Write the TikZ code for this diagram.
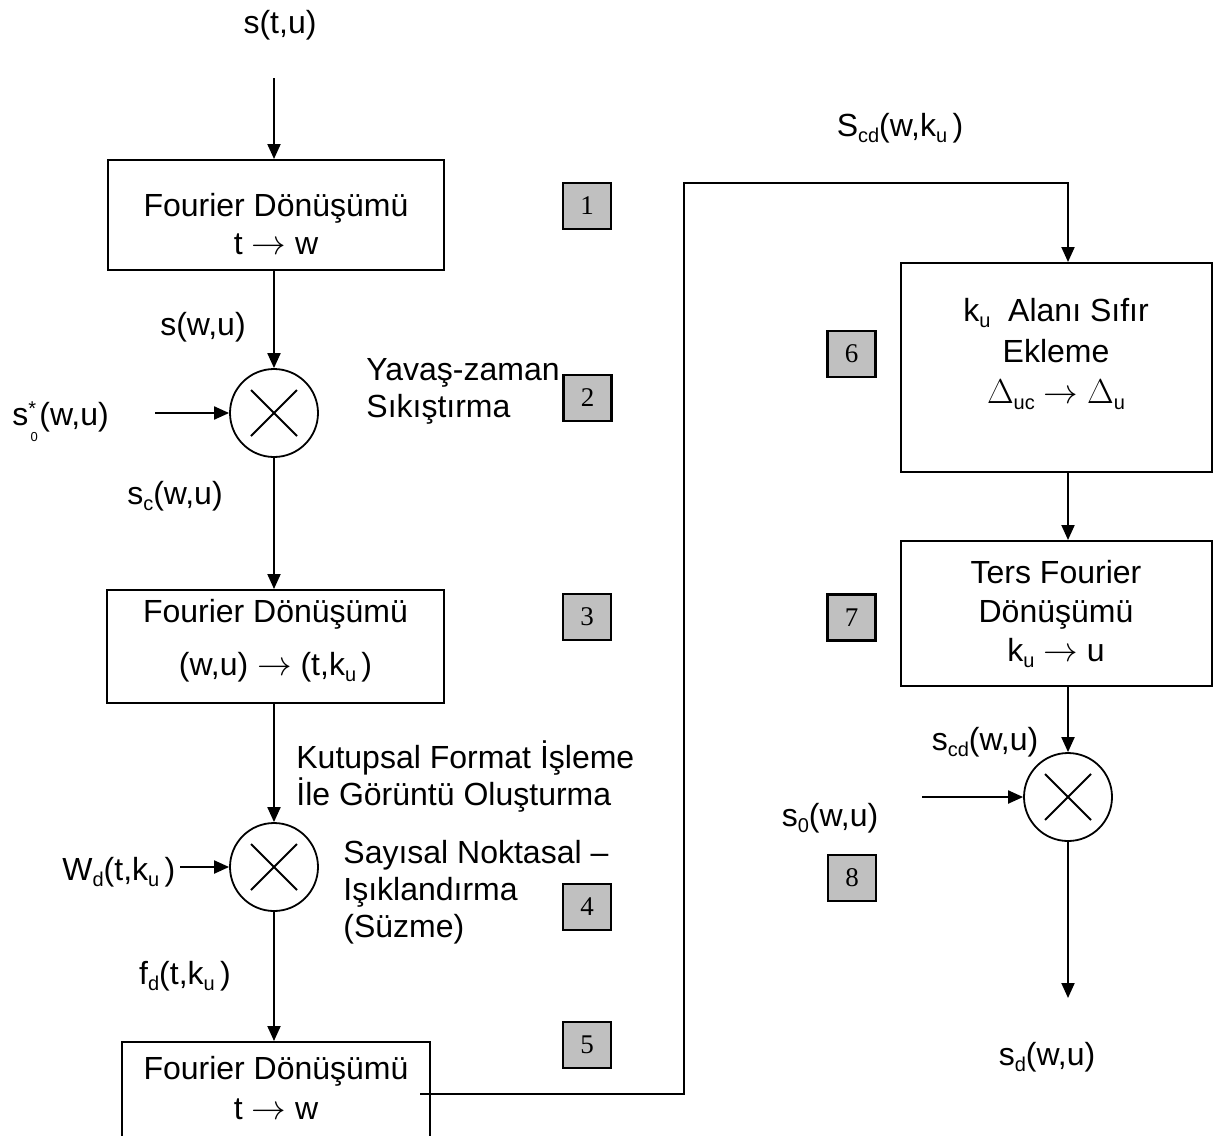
\documentclass[tikz,border=0pt]{standalone}
\usepackage{fontspec}
\setmainfont{Liberation Sans}
\newfontfamily\numfont{Liberation Serif}
\usetikzlibrary{arrows.meta,calc}
\definecolor{numgray}{HTML}{C0C0C0}
\newcommand{\mysb}[1]{\raisebox{-3pt}{\fontsize{10}{10}\selectfont #1}}
\begin{document}
\begin{tikzpicture}[x=0.5pt,y=-0.5pt,
  every node/.style={font=\fontsize{16}{18.5}\selectfont, inner sep=0pt},
  blk/.style={draw, line width=1pt},
  btxt/.style={align=center, anchor=base},
  mult/.style={draw, circle, line width=0.9pt, minimum size=44pt},
  numbox/.style={draw, line width=1.2pt, fill=numgray, minimum width=24pt, minimum height=23pt, font=\numfont\fontsize{13.5}{13.5}\selectfont},
  arr/.style={line width=1pt, -{Triangle[length=7.5pt,width=6.5pt]}},
  ln/.style={line width=1pt},
  side/.style={align=left, anchor=base west}
]
\clip (0,0) rectangle (1213,1135);
\fill[white] (0,0) rectangle (1213,1135);

% left column
\node (lst) at (280,25) {s(t,u)};
\coordinate (in) at (274,78);
\node[blk, minimum width=168pt, minimum height=55pt] (b1) at (276,215) {};
\node[btxt] (t1) at (276,254) {Fourier Dönüşümü\\[0.5pt] t $\rightarrow$ w};
\node[mult] (c1) at (274,413) {};
\node[blk, minimum width=168.5pt, minimum height=56.5pt] (b3) at (275.5,646.5) {};
\node[btxt] (t3) at (275.5,675) {Fourier Dönüşümü\\[8pt] (w,u) $\rightarrow$ (t,k\mysb{u}\,)};
\node[mult] (c2) at (274,867) {};
\node[blk, minimum width=154pt, minimum height=49pt] (b5) at (276,1091) {};
\node[btxt] (t5) at (276,1119) {Fourier Dönüşümü\\[1.5pt] t $\rightarrow$ w};

\foreach \c in {c1,c2}{
  \draw[ln] ([shift={(-23,-23)}]\c.center) -- ([shift={(23,23)}]\c.center);
  \draw[ln] ([shift={(-23,23)}]\c.center) -- ([shift={(23,-23)}]\c.center);
}

\draw[arr] (in) -- (in |- b1.north);
\draw[arr] (c1 |- b1.south) -- (c1.north);
\draw[arr] (c1.south) -- (c1 |- b3.north);
\draw[arr] (c2 |- b3.south) -- (c2.north);
\draw[arr] (c2.south) -- (c2 |- b5.north);

\node (lswu) at (203,327) {s(w,u)};
\node[anchor=west] (ls0s) at (12,422) {s\makebox[0pt][l]{\raisebox{0.55ex}{\fontsize{10}{10}\selectfont *}}\raisebox{-1.0ex}{\fontsize{6.5}{6.5}\selectfont \,0}\hspace{0.05em}(w,u)};
\coordinate (s0in) at (155,413);
\draw[arr] (s0in) -- (c1.west);
\node (lsc) at (175,496) {s\mysb{c}(w,u)};
\node[anchor=west] (lwd) at (62,872) {W\mysb{d}(t,k\mysb{u}\,)};
\coordinate (wdin) at (180,867);
\draw[arr] (wdin) -- (c2.west);
\node (lfd) at (185,976) {f\mysb{d}(t,k\mysb{u}\,)};

\node[side] (tyz) at (366,417) {Yavaş-zaman\\ Sıkıştırma};
\node[side] (tkf) at (296,805) {Kutupsal Format İşleme\\ İle Görüntü Oluşturma};
\node[side] (tsn) at (343,937) {Sayısal Noktasal –\\ Işıklandırma\\ (Süzme)};

% number boxes
\node[numbox] (n1) at (587,206) {1};
\node[numbox] (n2) at (587.5,398) {2};
\node[numbox] (n3) at (587,617) {3};
\node[numbox] (n4) at (587,907) {4};
\node[numbox] (n5) at (587,1045) {5};
\node[numbox] (n6) at (851.5,354) {6};
\node[numbox] (n7) at (851.5,617.5) {7};
\node[numbox] (n8) at (852,878) {8};

% right column
\node[blk, minimum width=155.5pt, minimum height=104.5pt] (b6) at (1056.5,367.5) {};
\node[btxt] (t6) at (1056,403) {k\mysb{u}\ \ Alanı Sıfır\\[2pt] Ekleme\\[2pt] $\Delta$\mysb{uc} $\rightarrow$ $\Delta$\mysb{u}};
\node[blk, minimum width=155.5pt, minimum height=72.5pt] (b7) at (1056.5,613.5) {};
\node[btxt] (t7) at (1056,661) {Ters Fourier\\[1pt] Dönüşümü\\[1pt] k\mysb{u} $\rightarrow$ u};
\node[mult] (c3) at (1068,797) {};
\draw[ln] ([shift={(-23,-23)}]c3.center) -- ([shift={(23,23)}]c3.center);
\draw[ln] ([shift={(-23,23)}]c3.center) -- ([shift={(23,-23)}]c3.center);

\coordinate (r0) at (420,1094);
\coordinate (rA) at (684,1094);
\coordinate (rB) at (684,183);
\coordinate (rC) at (1068,183);
\draw[arr] (r0) -- (rA) -- (rB) -- (rC) -- (rC |- b6.north);
\draw[arr] (rC |- b6.south) -- (rC |- b7.north);
\draw[arr] (c3 |- b7.south) -- (c3.north);
\coordinate (out) at (1068,998);
\draw[arr] (c3.south) -- (out);
\coordinate (s0r) at (922,797);
\draw[arr] (s0r) -- (c3.west);

\node (lscd) at (900,128) {S\mysb{cd}(w,k\mysb{u}\,)};
\node (lscdw) at (985,742) {s\mysb{cd}(w,u)};
\node (ls0) at (830,818) {s\mysb{0}(w,u)};
\node (lsd) at (1047,1057) {s\mysb{d}(w,u)};
\end{tikzpicture}
\end{document}
